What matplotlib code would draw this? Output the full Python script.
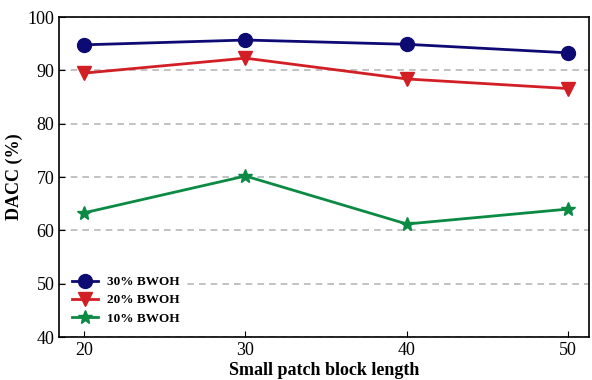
import matplotlib
matplotlib.use("Agg")
import matplotlib.pyplot as plt

block_lengths = [20, 30, 40, 50]
bwoh_30 = [94.8, 95.7, 94.9, 93.3]
bwoh_20 = [89.5, 92.3, 88.4, 86.6]
bwoh_10 = [63.3, 70.2, 61.2, 64.0]
y_ticks = [40, 50, 60, 70, 80, 90, 100]

plt.rcParams["font.family"] = ["Liberation Serif", "DejaVu Serif"]

fig = plt.figure(figsize=(5.92, 3.8), dpi=100)
ax = fig.add_axes([0.1, 0.113, 0.895, 0.842])

ax.plot(block_lengths, bwoh_30, color="#0d0a73", marker="o", markersize=10,
        linewidth=2, label="30% BWOH")
ax.plot(block_lengths, bwoh_20, color="#d21f26", marker="v", markersize=10,
        linewidth=2, label="20% BWOH")
ax.plot(block_lengths, bwoh_10, color="#0b8a44", marker="*", markersize=10,
        linewidth=2, label="10% BWOH")

ax.set_xlim(18.45, 51.3)
ax.set_ylim(40, 100)
ax.set_xticks(block_lengths)
ax.set_yticks(y_ticks)
ax.yaxis.grid(True, linestyle="--", color="#b8b8b8", linewidth=1.2, dashes=(4, 3))
ax.set_axisbelow(True)
ax.tick_params(direction="in", labelsize=13, length=4)
for s in ax.spines.values():
    s.set_linewidth(1.2)

ax.set_xlabel("Small patch block length", fontsize=13, fontweight="bold", labelpad=2)
ax.set_ylabel("DACC (%)", fontsize=13, fontweight="bold", labelpad=3)

leg = ax.legend(loc="lower left", frameon=True, prop={"weight": "bold", "size": 9.5},
                handlelength=2.0, handletextpad=0.7, borderaxespad=0.55,
                labelspacing=0.45)
leg.get_frame().set_edgecolor("none")
leg.get_frame().set_facecolor("white")
leg.get_frame().set_alpha(1)

fig.savefig("out.png", dpi=100)
